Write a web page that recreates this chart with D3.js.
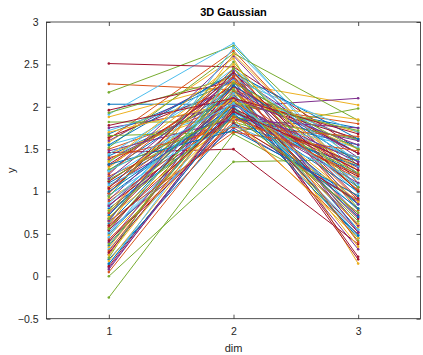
<!DOCTYPE html>
<html><head><meta charset="utf-8">
<script src="https://cdn.jsdelivr.net/npm/d3@7"></script>
<style>body{margin:0;background:#fff}svg{display:block}text{font-family:"Liberation Sans",Arial,sans-serif}</style>
</head><body>
<svg id="c" width="423" height="355"></svg>
<script>
const title = "3D Gaussian";
const xLabel = "dim";
const yLabel = "y";
const dims = [1, 2, 3];
const yTicks = [-0.5, 0, 0.5, 1, 1.5, 2, 2.5, 3];
const palette = ["#0072BD","#D95319","#EDB120","#7E2F8E","#77AC30","#4DBEEE","#A2142F"];

const blueLines = [[2.03,2.03,1.75],[1.68,2.30,1.45],[1.42,2.10,1.05],[1.25,2.22,0.55],[1.10,1.95,1.20],[0.95,2.05,0.85],[0.80,1.88,1.55],[0.62,2.15,0.45],[0.50,1.98,1.00],[0.36,2.08,0.70],[0.20,1.80,1.30],[1.55,2.40,1.62],[1.32,1.72,0.95],[0.72,2.25,1.35],[1.00,2.00,0.48],[0.15,1.92,0.80]];
const orangeLines = [[2.27,2.20,1.60],[1.62,2.66,1.10],[1.50,2.02,1.80],[1.30,2.26,0.70],[1.18,1.85,1.40],[1.02,2.12,0.60],[0.88,1.95,1.15],[0.75,2.32,0.90],[0.58,2.05,1.25],[0.44,1.82,0.50],[0.30,2.18,1.02],[1.40,1.76,1.65],[0.98,2.45,0.78],[0.65,1.70,1.48],[1.22,2.36,0.40],[0.05,1.88,1.20]];
const yellowLines = [[1.88,2.28,2.02],[1.58,2.57,0.15],[1.45,1.98,1.30],[1.28,2.40,0.58],[1.12,2.10,1.70],[0.92,1.78,0.95],[0.78,2.22,0.35],[0.60,2.62,1.15],[0.48,1.90,0.75],[0.34,2.15,1.50],[0.18,2.00,0.62],[1.70,2.05,1.85],[1.05,2.30,1.25],[0.70,1.86,0.45],[1.35,2.50,1.00],[0.25,2.08,0.88]];
const purpleLines = [[1.75,2.00,2.10],[1.60,2.38,1.40],[1.38,2.12,0.32],[1.20,2.60,1.05],[1.06,1.92,1.60],[0.90,2.25,0.72],[0.74,2.05,1.28],[0.55,1.75,0.90],[0.40,2.18,1.45],[0.26,2.30,0.60],[0.10,1.95,1.10],[1.48,1.85,1.75],[1.15,2.34,0.85],[0.83,2.10,1.55],[0.66,2.42,0.52],[0.08,2.02,1.35]];
const greenLines = [[2.17,2.72,1.30],[1.93,2.35,1.00],[1.82,1.82,1.40],[0.00,1.35,1.38],[-0.25,1.68,0.90],[1.66,1.70,1.98],[1.52,2.63,1.84],[1.36,2.14,0.65],[1.14,1.96,1.22],[0.94,2.53,0.80],[0.77,1.88,1.62],[0.56,2.20,0.42],[0.38,2.05,1.72],[0.22,2.45,1.05],[1.26,1.90,0.75],[0.68,2.28,1.50]];
const lightBlueLines = [[1.91,2.75,1.10],[1.72,2.18,1.60],[1.55,1.95,0.85],[1.34,2.45,1.35],[1.16,2.08,0.62],[0.96,1.86,1.52],[0.82,2.28,0.98],[0.64,2.70,1.20],[0.52,2.02,0.55],[0.32,1.92,1.40],[0.14,2.12,0.78],[1.44,2.32,1.70],[1.08,1.78,1.15],[0.86,2.16,0.48],[0.46,2.40,1.30],[1.24,2.04,1.08]];
const darkRedLines = [[2.51,2.47,1.50],[1.96,2.30,1.20],[1.64,2.22,0.20],[1.46,1.50,0.38],[1.32,2.26,0.23],[1.12,2.08,1.62],[0.98,2.36,0.92],[0.84,1.90,1.18],[0.68,2.14,0.68],[0.54,2.24,1.45],[0.42,1.80,0.88],[0.28,2.06,0.52],[0.12,1.98,1.25],[1.78,2.10,1.68],[1.04,2.40,1.00],[0.60,1.94,1.32]];

const groups = [blueLines, orangeLines, yellowLines, purpleLines, greenLines, lightBlueLines, darkRedLines];
const rows = [];
for (let k = 0; k < blueLines.length; k++) for (let g = 0; g < groups.length; g++) rows.push(groups[g][k]);

const svg = d3.select("#c");
const L = 46.5, R = 420.5, T = 22, B = 318.7;
const x = d3.scaleLinear().domain([0.5, 3.5]).range([L, R]);
const y = d3.scaleLinear().domain([-0.5, 3]).range([B, T]);
const axisCol = "#262626";

const line = d3.line().x((d, i) => x(dims[i])).y(d => y(d));
const g = svg.append("g");
rows.forEach((r, i) => {
  const c = palette[i % palette.length];
  g.append("path").attr("d", line(r)).attr("fill", "none").attr("stroke", c).attr("stroke-width", 1);
  g.selectAll(null).data(r).enter().append("circle")
    .attr("cx", (d, j) => x(dims[j])).attr("cy", d => y(d)).attr("r", 1.3).attr("fill", c);
});

function styleAxis(sel) {
  sel.select(".domain").remove();
  sel.selectAll("line").attr("stroke", axisCol).attr("stroke-width", 0.8);
  sel.selectAll("text").attr("fill", axisCol).style("font-size", "10.5px");
}
svg.append("g").attr("transform", `translate(0,${B})`)
  .call(d3.axisBottom(x).tickValues(dims).tickFormat(d3.format("d")).tickSizeInner(-4).tickPadding(9))
  .call(styleAxis);
svg.append("g").attr("transform", `translate(0,${T})`)
  .call(d3.axisTop(x).tickValues(dims).tickFormat("").tickSizeInner(-4))
  .call(styleAxis);
svg.append("g").attr("transform", `translate(${L},0)`)
  .call(d3.axisLeft(y).tickValues(yTicks).tickFormat(d => d3.format("")(d)).tickSizeInner(-4).tickPadding(8))
  .call(styleAxis);
svg.append("g").attr("transform", `translate(${R},0)`)
  .call(d3.axisRight(y).tickValues(yTicks).tickFormat("").tickSizeInner(-4))
  .call(styleAxis);
svg.append("rect").attr("x", L).attr("y", T).attr("width", R - L).attr("height", B - T)
  .attr("fill", "none").attr("stroke", axisCol).attr("stroke-width", 0.8);

svg.append("text").attr("x", (L + R) / 2).attr("y", 16).attr("text-anchor", "middle")
  .style("font-size", "11px").style("font-weight", "bold").attr("fill", "#000").text(title);
svg.append("text").attr("x", (L + R) / 2).attr("y", 352).attr("text-anchor", "middle")
  .style("font-size", "11px").attr("fill", axisCol).text(xLabel);
svg.append("text").attr("transform", `translate(15,${(T + B) / 2}) rotate(-90)`).attr("text-anchor", "middle")
  .style("font-size", "11px").attr("fill", axisCol).text(yLabel);
</script>
</body></html>
